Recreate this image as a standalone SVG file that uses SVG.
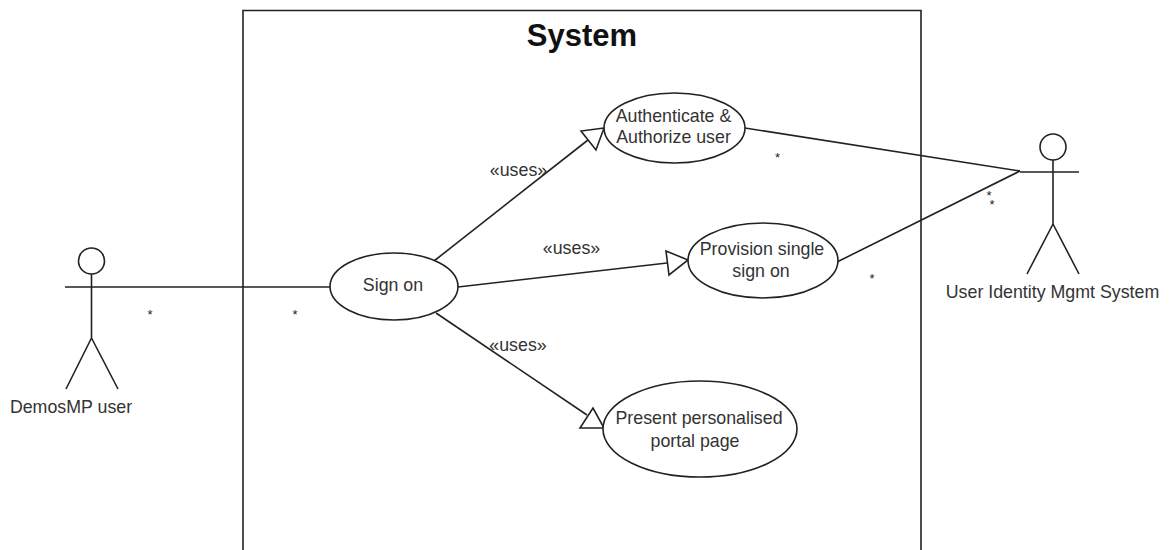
<svg xmlns="http://www.w3.org/2000/svg" width="1170" height="550" viewBox="0 0 1170 550">
<style>
text{font-family:"Liberation Sans",Arial,sans-serif;font-size:17.800px;fill:#333;text-anchor:middle}
.s{fill:none;stroke:#222;stroke-width:1.600}
.f{fill:#fff;stroke:#222;stroke-width:1.600}
.b{fill:#fff;stroke:#222;stroke-width:1.600}
text.star{font-size:13px;fill:#222}
</style>
<rect width="1170" height="550" fill="#fff"/>
<g id="system"><path class="s" d="M243 550V10.500H921V550"/><text x="582" y="46" style="font-size:31px;font-weight:bold;fill:#111">System</text></g>
<g id="connectors">
<path class="s" d="M92 287H330"/>
<path class="s" d="M434 261L588 140"/>
<path class="s" d="M458 287L667 263"/>
<path class="s" d="M436 313L587 415"/>
<path class="s" d="M745 128L1020 171"/>
<path class="s" d="M837 262L1020 171"/>
<polygon class="b" points="604,128 581,131 596,150"/>
<polygon class="b" points="688,260 666,251 669,275"/>
<polygon class="b" points="604,428 580,428 593,408"/>
<text x="518.500" y="176">«uses»</text>
<text x="571.500" y="254">«uses»</text>
<text x="518" y="351">«uses»</text>
<text class="star" x="150" y="319">*</text>
<text class="star" x="295" y="319">*</text>
<text class="star" x="777.500" y="162">*</text>
<text class="star" x="872" y="283">*</text>
<text class="star" x="989" y="200">*</text>
<text class="star" x="992" y="209">*</text>
</g>
<g id="actor-demosmp"><circle class="s" cx="91.500" cy="261" r="13"/><path class="s" d="M91.500 274V338M65 287H92M91.500 338L66 389M91.500 338L118 389"/><text x="71" y="413">DemosMP user</text></g>
<g id="actor-identity"><circle class="s" cx="1053" cy="147" r="13"/><path class="s" d="M1053 160V224M1020 172H1079M1053 224L1027 274M1053 224L1079 274"/><text x="1052.500" y="298">User Identity Mgmt System</text></g>
<g id="sign-on"><ellipse class="f" cx="394" cy="286.500" rx="64" ry="33.500"/><text x="393" y="291">Sign on</text></g>
<g id="authenticate"><ellipse class="f" cx="674.500" cy="128" rx="70.500" ry="35"/><text x="673.500" y="122">Authenticate &amp;</text><text x="673.500" y="143">Authorize user</text></g>
<g id="provision"><ellipse class="f" cx="763" cy="260.500" rx="75" ry="37.500"/><text x="762" y="255">Provision single</text><text x="761" y="277">sign on</text></g>
<g id="present"><ellipse class="f" cx="700" cy="429" rx="97" ry="48"/><text x="699" y="424">Present personalised</text><text x="695" y="447">portal page</text></g>
</svg>
